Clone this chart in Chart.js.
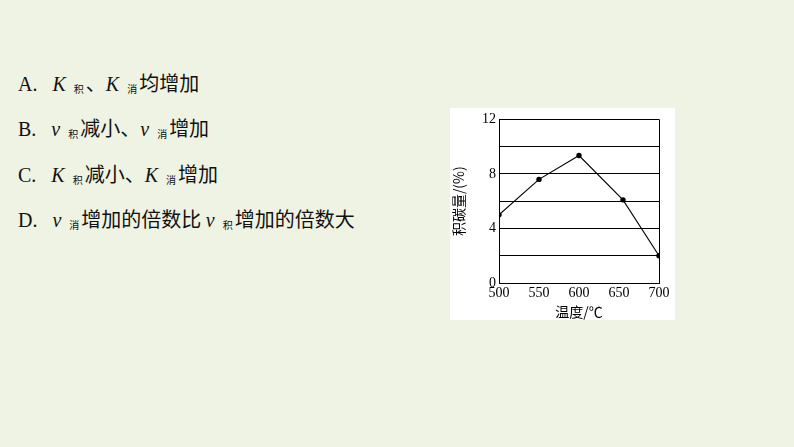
<!DOCTYPE html>
<html>
<head>
<meta charset="utf-8">
<script src="https://cdn.jsdelivr.net/npm/chart.js@4"></script>
<style>
  body { margin: 0; width: 794px; height: 447px; background: #eef3e3; overflow: hidden; position: relative; }
  .opt { position: absolute; left: 18px; font-family: "Liberation Serif", serif; font-size: 20px; line-height: 24px; color: #111; white-space: nowrap; }
  .cn { font-family: "Noto Sans CJK SC", sans-serif; font-size: 20px; }
  .it { font-style: italic; }
  .gap { display: inline-block; width: 15px; }
  .sub { font-family: "Noto Sans CJK SC", sans-serif; font-size: 10px; vertical-align: -2px; margin: 0 2px 0 8px; }
  #panel { position: absolute; left: 450px; top: 108px; width: 225px; height: 212px; background: #fff; }
</style>
</head>
<body>
<div class="opt" style="top:71px">A.<span class="gap"></span><span class="it">K</span><span class="sub">积</span><span class="cn">、</span><span class="it">K</span><span class="sub">消</span><span class="cn">均增加</span></div>
<div class="opt" style="top:116px">B.<span class="gap"></span><span class="it">v</span><span class="sub">积</span><span class="cn">减小、</span><span class="it">v</span><span class="sub">消</span><span class="cn">增加</span></div>
<div class="opt" style="top:162px">C.<span class="gap"></span><span class="it">K</span><span class="sub">积</span><span class="cn">减小、</span><span class="it">K</span><span class="sub">消</span><span class="cn">增加</span></div>
<div class="opt" style="top:207px">D.<span class="gap"></span><span class="it">v</span><span class="sub">消</span><span class="cn">增加的倍数比 </span><span class="it">v</span><span class="sub">积</span><span class="cn">增加的倍数大</span></div>

<div id="panel"><canvas id="chart" width="225" height="212"></canvas></div>

<script>
// temperature (°C) and carbon deposit (%)
const temperatures = [500, 550, 600, 655, 700];
const carbonAmount = [5.0, 7.6, 9.35, 6.1, 2.0];
const xTicks = [500, 550, 600, 650, 700];
const yLabels = [0, 4, 8, 12];

const points = temperatures.map((t, i) => ({ x: t, y: carbonAmount[i] }));

const ctx = document.getElementById('chart').getContext('2d');
const chart = new Chart(ctx, {
    type: 'line',
    data: {
        datasets: [{
            data: points,
            borderColor: '#000',
            borderWidth: 1.1,
            backgroundColor: '#000',
            pointRadius: 2.7,
            pointBorderWidth: 0,
            tension: 0
        }]
    },
    options: {
        responsive: false,
        animation: false,
        layout: { padding: { left: 0, top: 10, right: 16, bottom: 0 } },
        plugins: { legend: { display: false }, tooltip: { enabled: false } },
        scales: {
            x: {
                type: 'linear',
                min: 500,
                max: 700,
                afterBuildTicks: (scale) => { scale.ticks = xTicks.map(v => ({ value: v })); },
                afterFit: (scale) => { scale.height = 37; },
                ticks: {
                    color: '#000',
                    padding: 2,
                    maxRotation: 0,
                    font: { family: '"Liberation Serif", serif', size: 14 }
                },
                grid: {
                    drawTicks: false,
                    // only the right edge of the box
                    color: (c) => c.tick && c.tick.value === 700 ? '#000' : 'rgba(0,0,0,0)'
                },
                border: { color: '#000', width: 1 },
                title: {
                    display: true,
                    text: '温度/℃',
                    color: '#000',
                    padding: { top: 0, bottom: 0 },
                    font: { family: '"Noto Sans CJK SC", sans-serif', size: 14 }
                }
            },
            y: {
                min: 0,
                max: 12,
                afterFit: (scale) => { scale.width = 49; },
                ticks: {
                    stepSize: 2,
                    color: '#000',
                    padding: 3,
                    font: { family: '"Liberation Serif", serif', size: 14 },
                    callback: (v) => yLabels.includes(v) ? v : ''
                },
                grid: { drawTicks: false, color: '#000', lineWidth: 1 },
                border: { color: '#000', width: 1 },
                title: {
                    display: true,
                    text: '积碳量/(%)',
                    color: '#000',
                    padding: { top: 0, bottom: 2 },
                    font: { family: '"Noto Sans CJK SC", sans-serif', size: 14 }
                }
            }
        }
    }
});
</script>
</body>
</html>
